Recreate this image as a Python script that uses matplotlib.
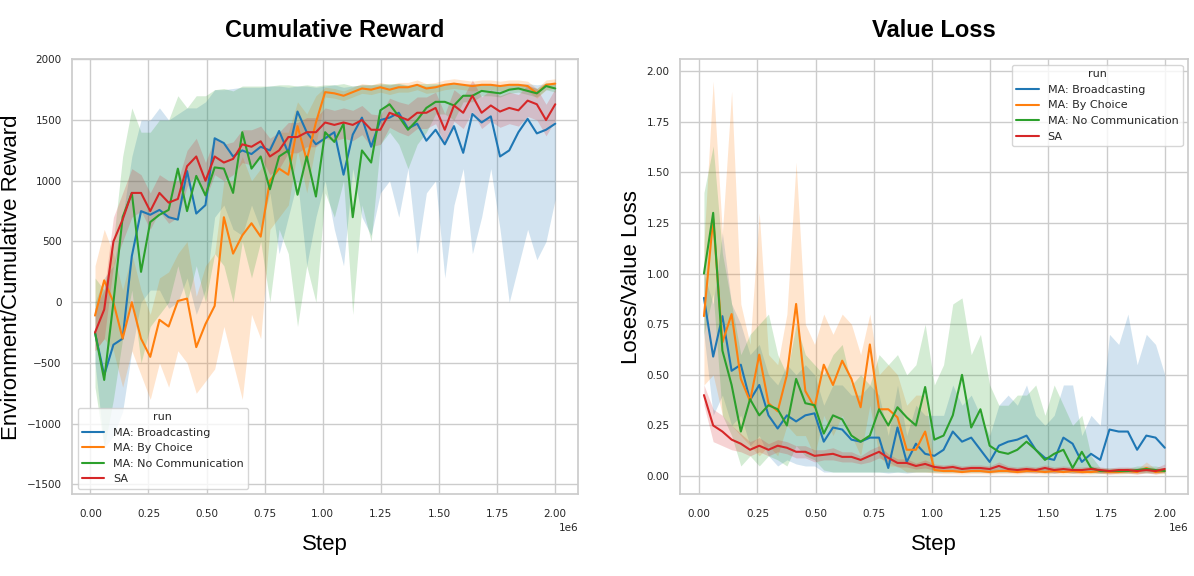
import numpy as np
import matplotlib
matplotlib.use("Agg")
import matplotlib.pyplot as plt
import seaborn as sns

# training steps (one logged point every ~40k steps)
steps = np.linspace(20000, 2000000, 51)

runs = ["MA: Broadcasting", "MA: By Choice", "MA: No Communication", "SA"]
colors = ["#1f77b4", "#ff7f0e", "#2ca02c", "#d62728"]

# ---- Cumulative reward: mean and band (lower / upper) per run ----
rew_broad = [-250, -600, -350, -300, 380, 750, 720, 760, 700, 680,
             1080, 730, 800, 1350, 1310, 1200, 1250, 1220, 1280, 1250,
             1410, 1230, 1570, 1400, 1300, 1350, 1400, 1050, 1380, 1520,
             1280, 1500, 1520, 1560, 1430, 1470, 1330, 1420, 1300, 1450,
             1230, 1550, 1480, 1530, 1200, 1250, 1400, 1510, 1390, 1420,
             1470]
rew_broad_lo = [-500, -1200, -1100, -900, -400, 0, 100, 100, -50, 0,
                200, -100, 100, 700, 800, 600, 550, 800, 600, 900,
                400, 700, 1000, 300, 700, 1000, 600, 300, 1100, 700,
                550, 900, 1000, 700, 1100, 400, 900, 1000, 200, 800,
                1100, 400, 700, 1100, 600, 0, 300, 600, 350, 500,
                850]
rew_broad_hi = [0, 200, 300, 700, 1200, 1500, 1500, 1600, 1500, 1550,
                1600, 1600, 1650, 1750, 1750, 1760, 1770, 1770, 1770, 1780,
                1780, 1770, 1780, 1780, 1770, 1780, 1790, 1770, 1780, 1790,
                1790, 1790, 1790, 1800, 1780, 1790, 1780, 1790, 1790, 1800,
                1790, 1800, 1800, 1800, 1790, 1800, 1800, 1800, 1790, 1800,
                1800]

rew_choice = [-110, 180, 0, -300, 0, -300, -450, -145, -200, 10,
              30, -370, -180, -30, 700, 400, 550, 650, 540, 1000,
              1100, 1050, 1450, 1170, 1480, 1730, 1720, 1700, 1730, 1760,
              1750, 1770, 1750, 1770, 1770, 1790, 1760, 1770, 1790, 1800,
              1790, 1780, 1790, 1790, 1780, 1790, 1790, 1780, 1720, 1790,
              1800]
rew_choice_lo = [-400, -300, -400, -700, -400, -600, -800, -500, -700, -400,
                 -500, -750, -650, -550, -200, -500, -800, -100, -300, 600,
                 700, 800, 1250, 900, 1300, 1690, 1680, 1660, 1690, 1720,
                 1710, 1730, 1710, 1730, 1730, 1750, 1720, 1730, 1750, 1760,
                 1750, 1740, 1750, 1750, 1740, 1750, 1750, 1740, 1680, 1750,
                 1760]
rew_choice_hi = [300, 600, 400, 100, 400, 100, -100, 200, 250, 400,
                 500, 50, 300, 400, 1000, 1000, 1200, 1000, 1100, 1300,
                 1400, 1400, 1650, 1550, 1700, 1770, 1760, 1740, 1770, 1800,
                 1790, 1810, 1790, 1810, 1810, 1830, 1800, 1810, 1830, 1840,
                 1830, 1820, 1830, 1830, 1820, 1830, 1830, 1820, 1760, 1830,
                 1840]

rew_nocom = [-250, -640, 0, 700, 900, 250, 660, 720, 760, 1100,
             750, 1040, 880, 1110, 1100, 900, 1400, 1100, 1200, 930,
             1200, 1250, 885, 1200, 870, 1400, 1320, 1470, 700, 1250,
             1150, 1580, 1630, 1530, 1420, 1500, 1600, 1650, 1650, 1620,
             1700, 1700, 1740, 1730, 1720, 1750, 1760, 1740, 1720, 1780,
             1760]
rew_nocom_lo = [-700, -1200, -800, -300, 100, -500, -200, -100, 0, 300,
                0, 300, 0, 400, 300, 0, 500, 200, 500, 0,
                600, 400, -200, 300, 0, 900, 700, 1000, -100, 800,
                500, 1300, 1400, 1300, 1100, 1300, 1400, 1550, 1550, 1500,
                1650, 1650, 1700, 1700, 1690, 1720, 1730, 1710, 1690, 1750,
                1730]
rew_nocom_hi = [200, 100, 500, 1200, 1600, 1400, 1400, 1500, 1500, 1700,
                1600, 1700, 1700, 1750, 1760, 1740, 1780, 1780, 1780, 1780,
                1790, 1790, 1780, 1790, 1780, 1790, 1790, 1800, 1780, 1790,
                1790, 1800, 1800, 1800, 1790, 1800, 1800, 1800, 1800, 1800,
                1790, 1790, 1790, 1790, 1780, 1790, 1800, 1780, 1760, 1810,
                1800]

rew_sa = [-250, -60, 500, 680, 900, 900, 750, 900, 820, 850,
          1120, 1200, 1000, 1200, 1150, 1180, 1300, 1280, 1325, 1200,
          1250, 1360, 1360, 1400, 1400, 1480, 1460, 1480, 1460, 1500,
          1420, 1420, 1560, 1530, 1500, 1560, 1560, 1600, 1420, 1620,
          1560, 1700, 1560, 1620, 1570, 1600, 1580, 1660, 1630, 1500,
          1630]
rew_sa_lo = [-400, -300, 300, 500, 700, 750, 600, 750, 650, 700,
             950, 1050, 850, 1050, 1000, 1050, 1150, 1130, 1200, 1050,
             1100, 1230, 1230, 1280, 1280, 1350, 1330, 1350, 1330, 1380,
             1280, 1300, 1440, 1400, 1370, 1430, 1430, 1470, 1300, 1490,
             1430, 1570, 1430, 1490, 1440, 1470, 1450, 1530, 1500, 1370,
             1500]
rew_sa_hi = [-50, 100, 700, 900, 1100, 1050, 900, 1050, 1000, 1000,
             1250, 1350, 1150, 1350, 1300, 1320, 1420, 1420, 1450, 1350,
             1400, 1480, 1480, 1520, 1520, 1600, 1580, 1600, 1580, 1620,
             1550, 1540, 1680, 1650, 1630, 1690, 1690, 1730, 1550, 1750,
             1690, 1830, 1690, 1750, 1700, 1730, 1710, 1790, 1760, 1630,
             1760]

# ---- Value loss ----
loss_broad = [0.88, 0.59, 0.79, 0.52, 0.55, 0.375, 0.45, 0.30, 0.235, 0.30,
              0.27, 0.30, 0.31, 0.17, 0.24, 0.23, 0.18, 0.17, 0.19, 0.19,
              0.04, 0.24, 0.07, 0.16, 0.11, 0.10, 0.13, 0.22, 0.17, 0.19,
              0.13, 0.07, 0.15, 0.17, 0.18, 0.20, 0.13, 0.09, 0.08, 0.19,
              0.16, 0.07, 0.11, 0.08, 0.23, 0.22, 0.22, 0.13, 0.20, 0.19,
              0.14]
loss_broad_lo = [0.70, 0.30, 0.40, 0.25, 0.30, 0.15, 0.20, 0.10, 0.05, 0.08,
                 0.06, 0.05, 0.05, 0.02, 0.02, 0.02, 0.02, 0.02, 0.02, 0.02,
                 0.015, 0.02, 0.015, 0.02, 0.02, 0.02, 0.02, 0.02, 0.02, 0.02,
                 0.02, 0.015, 0.02, 0.02, 0.02, 0.02, 0.02, 0.015, 0.015, 0.02,
                 0.02, 0.015, 0.02, 0.015, 0.02, 0.02, 0.02, 0.02, 0.02, 0.02,
                 0.02]
loss_broad_hi = [1.0, 0.85, 1.2, 0.85, 0.75, 0.6, 0.65, 0.5, 0.45, 0.55,
                 0.5, 0.55, 0.5, 0.35, 0.45, 0.45, 0.4, 0.4, 0.45, 0.4,
                 0.2, 0.45, 0.2, 0.35, 0.3, 0.3, 0.3, 0.45, 0.35, 0.4,
                 0.3, 0.2, 0.35, 0.4, 0.35, 0.45, 0.3, 0.25, 0.3, 0.45,
                 0.45, 0.2, 0.3, 0.25, 0.7, 0.65, 0.8, 0.55, 0.7, 0.65,
                 0.5]

loss_choice = [0.79, 1.27, 0.66, 0.80, 0.48, 0.37, 0.60, 0.36, 0.32, 0.50,
               0.85, 0.42, 0.34, 0.55, 0.45, 0.57, 0.48, 0.34, 0.65, 0.33,
               0.33, 0.29, 0.13, 0.13, 0.22, 0.03, 0.025, 0.025, 0.02, 0.025,
               0.025, 0.02, 0.025, 0.025, 0.02, 0.025, 0.025, 0.02, 0.025, 0.02,
               0.025, 0.02, 0.02, 0.025, 0.02, 0.02, 0.025, 0.02, 0.04, 0.02,
               0.025]
loss_choice_lo = [0.45, 0.5, 0.3, 0.25, 0.2, 0.15, 0.1, 0.15, 0.1, 0.25,
                  0.2, 0.2, 0.1, 0.3, 0.2, 0.3, 0.2, 0.1, 0.35, 0.1,
                  0.05, 0.05, 0.02, 0.02, 0.02, 0.015, 0.012, 0.012, 0.01, 0.012,
                  0.012, 0.01, 0.012, 0.012, 0.01, 0.012, 0.012, 0.01, 0.012, 0.01,
                  0.012, 0.01, 0.01, 0.012, 0.01, 0.01, 0.012, 0.01, 0.02, 0.01,
                  0.012]
loss_choice_hi = [1.15, 1.95, 1.2, 1.9, 0.85, 0.65, 1.3, 0.6, 0.55, 0.8,
                  1.55, 0.75, 0.65, 0.8, 0.7, 0.8, 0.75, 0.6, 0.8, 0.5,
                  0.55, 0.5, 0.35, 0.4, 0.4, 0.05, 0.04, 0.04, 0.035, 0.04,
                  0.04, 0.035, 0.04, 0.04, 0.035, 0.04, 0.04, 0.035, 0.04, 0.035,
                  0.04, 0.035, 0.035, 0.04, 0.035, 0.035, 0.04, 0.035, 0.07, 0.035,
                  0.04]

loss_nocom = [1.0, 1.30, 0.62, 0.45, 0.22, 0.38, 0.30, 0.35, 0.33, 0.25,
              0.48, 0.36, 0.35, 0.21, 0.30, 0.28, 0.20, 0.17, 0.20, 0.33,
              0.25, 0.34, 0.29, 0.25, 0.44, 0.18, 0.20, 0.30, 0.50, 0.24,
              0.33, 0.15, 0.12, 0.11, 0.13, 0.17, 0.13, 0.08, 0.11, 0.13,
              0.04, 0.12, 0.04, 0.025, 0.025, 0.025, 0.025, 0.03, 0.035, 0.03,
              0.025]
loss_nocom_lo = [0.7, 0.9, 0.3, 0.2, 0.05, 0.1, 0.05, 0.1, 0.08, 0.05,
                 0.15, 0.1, 0.08, 0.03, 0.02, 0.02, 0.02, 0.02, 0.02, 0.02,
                 0.02, 0.02, 0.02, 0.02, 0.02, 0.02, 0.02, 0.02, 0.02, 0.02,
                 0.02, 0.02, 0.02, 0.02, 0.02, 0.02, 0.02, 0.02, 0.02, 0.02,
                 0.015, 0.02, 0.015, 0.015, 0.015, 0.015, 0.015, 0.015, 0.015, 0.015,
                 0.015]
loss_nocom_hi = [1.4, 1.63, 1.1, 0.85, 0.6, 0.7, 0.75, 0.8, 0.6, 0.5,
                 0.75, 0.6, 0.55, 0.5, 0.6, 0.65, 0.45, 0.5, 0.45, 0.6,
                 0.55, 0.6, 0.5, 0.55, 0.75, 0.45, 0.55, 0.85, 0.88, 0.6,
                 0.7, 0.45, 0.35, 0.35, 0.4, 0.4, 0.45, 0.3, 0.45, 0.35,
                 0.25, 0.3, 0.1, 0.04, 0.04, 0.04, 0.04, 0.05, 0.05, 0.05,
                 0.04]

loss_sa = [0.40, 0.25, 0.22, 0.18, 0.16, 0.13, 0.15, 0.13, 0.15, 0.14,
           0.12, 0.12, 0.10, 0.105, 0.11, 0.095, 0.095, 0.08, 0.10, 0.12,
           0.09, 0.065, 0.065, 0.05, 0.06, 0.045, 0.04, 0.045, 0.035, 0.04,
           0.04, 0.035, 0.05, 0.035, 0.03, 0.035, 0.03, 0.04, 0.03, 0.035,
           0.03, 0.03, 0.035, 0.03, 0.025, 0.03, 0.03, 0.025, 0.03, 0.025,
           0.035]
loss_sa_lo = [0.35, 0.17, 0.15, 0.13, 0.12, 0.10, 0.12, 0.10, 0.12, 0.11,
              0.09, 0.09, 0.07, 0.08, 0.08, 0.07, 0.07, 0.06, 0.07, 0.09,
              0.07, 0.045, 0.045, 0.035, 0.04, 0.03, 0.025, 0.03, 0.02, 0.025,
              0.025, 0.02, 0.035, 0.02, 0.015, 0.02, 0.015, 0.025, 0.015, 0.02,
              0.015, 0.015, 0.02, 0.015, 0.01, 0.015, 0.015, 0.01, 0.015, 0.01,
              0.02]
loss_sa_hi = [0.45, 0.33, 0.30, 0.25, 0.21, 0.17, 0.19, 0.16, 0.18, 0.17,
              0.15, 0.15, 0.13, 0.13, 0.14, 0.12, 0.12, 0.10, 0.13, 0.15,
              0.11, 0.085, 0.085, 0.065, 0.08, 0.06, 0.055, 0.06, 0.05, 0.055,
              0.055, 0.05, 0.07, 0.05, 0.045, 0.05, 0.045, 0.055, 0.045, 0.05,
              0.045, 0.045, 0.05, 0.045, 0.04, 0.045, 0.045, 0.04, 0.045, 0.04,
              0.06]

reward = [(rew_broad, rew_broad_lo, rew_broad_hi),
          (rew_choice, rew_choice_lo, rew_choice_hi),
          (rew_nocom, rew_nocom_lo, rew_nocom_hi),
          (rew_sa, rew_sa_lo, rew_sa_hi)]
loss = [(loss_broad, loss_broad_lo, loss_broad_hi),
        (loss_choice, loss_choice_lo, loss_choice_hi),
        (loss_nocom, loss_nocom_lo, loss_nocom_hi),
        (loss_sa, loss_sa_lo, loss_sa_hi)]

sns.set_theme(style="whitegrid")
plt.rcParams['font.family'] = ['DejaVu Sans']

fig = plt.figure(figsize=(11.94, 5.76), dpi=100)
ax1 = fig.add_axes([0.0603, 0.1418, 0.4240, 0.7552])
ax2 = fig.add_axes([0.5695, 0.1418, 0.4257, 0.7552])

label_font = dict(family=['Liberation Sans', 'Arial', 'DejaVu Sans'], size=16, color='black')
title_font = dict(family=['Liberation Sans', 'Arial', 'DejaVu Sans'], size=17,
                  weight='bold', color='black')


def draw(ax, series):
    for name, col, (m, lo, hi) in zip(runs, colors, series):
        ax.fill_between(steps, lo, hi, color=col, alpha=0.2, linewidth=0)
        ax.plot(steps, m, color=col, lw=1.5, label=name)


draw(ax1, reward)
draw(ax2, loss)

ax1.set_xlim(-79000, 2099000)
ax1.set_ylim(-1582, 2000)
ax2.set_xlim(-83000, 2101000)
ax2.set_ylim(-0.09, 2.058)
ax2.yaxis.set_major_formatter(matplotlib.ticker.FormatStrFormatter('%.2f'))

ax1.set_title("Cumulative Reward", x=0.518, pad=16, **title_font)
ax2.set_title("Value Loss", pad=16, **title_font)
ax1.set_xlabel("Step", labelpad=11, **label_font)
ax2.set_xlabel("Step", labelpad=11, **label_font)
ax1.set_ylabel("Environment/Cumulative Reward", labelpad=3, **label_font)
ax2.set_ylabel("Loses/Value Loss", labelpad=3, **label_font)

for ax in (ax1, ax2):
    ax.tick_params(axis='x', labelsize=7.5, length=0, pad=10.5, colors='0.15')
    ax.tick_params(axis='y', labelsize=7.5, length=0, pad=7.5, colors='0.15')
    ax.xaxis.get_offset_text().set_fontsize(7.5)
    for s in ax.spines.values():
        s.set_color('0.8')

ax1.legend(title="run", loc="lower left", fontsize=8, title_fontsize=8)
ax2.legend(title="run", loc="upper right", fontsize=8, title_fontsize=8)

fig.savefig("out.png", dpi=100)
